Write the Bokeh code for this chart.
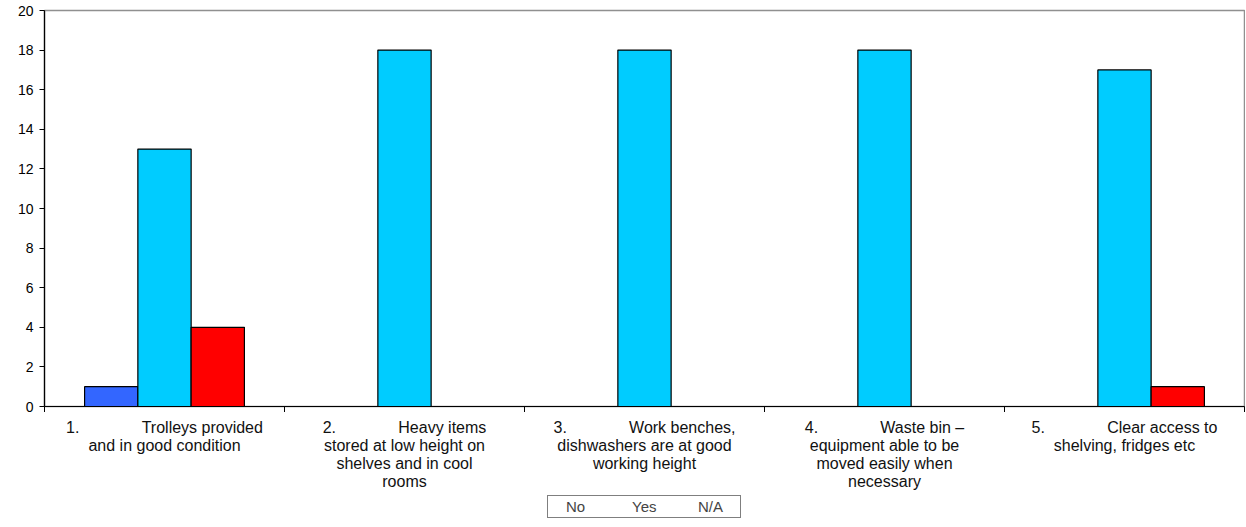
from bokeh.plotting import figure
from bokeh.layouts import column
from bokeh.models import FixedTicker, Range1d, Legend, LegendItem, ColumnDataSource
from bokeh.core.properties import value
from bokeh.embed import file_html
from bokeh.resources import INLINE

NB = "\u00a0"
categories = [
    "1." + NB * 14 + "Trolleys provided\nand in good condition",
    "2." + NB * 14 + "Heavy items\nstored at low height on\nshelves and in cool\nrooms",
    "3." + NB * 14 + "Work benches,\ndishwashers are at good\nworking height",
    "4." + NB * 14 + "Waste bin \u2013\nequipment able to be\nmoved easily when\nnecessary",
    "5." + NB * 14 + "Clear access to\nshelving, fridges etc",
]
series_names = ["No", "Yes", "N/A"]
no_values = [1, 0, 0, 0, 0]
yes_values = [13, 18, 18, 18, 17]
na_values = [4, 0, 0, 0, 1]
y_ticks = [0, 2, 4, 6, 8, 10, 12, 14, 16, 18, 20]

colors = ["#3366FF", "#00CCFF", "#FF0000"]
FONT = "Liberation Sans"

n = len(categories)
centers = [i + 0.5 for i in range(n)]
bw = 0.222
offsets = [-bw, 0.0, bw]

# ---- main chart ----
p = figure(frame_width=1200, frame_height=396, output_backend="svg", toolbar_location=None,
           x_range=Range1d(0, n), y_range=Range1d(0, 20),
           min_border_left=44, min_border_right=1, min_border_top=10, min_border_bottom=0)
p.xgrid.visible = False
p.ygrid.visible = False
p.outline_line_color = "#909090"
p.outline_line_width = 1.5
p.background_fill_color = "white"
p.border_fill_color = "white"

for vals, off, col in zip([no_values, yes_values, na_values], offsets, colors):
    src = ColumnDataSource(dict(x=[c + off for c in centers], top=vals))
    p.vbar(x="x", top="top", bottom=0, width=bw, source=src,
           fill_color=col, line_color="black", line_width=1.2)

ya = p.yaxis[0]
ya.ticker = FixedTicker(ticks=y_ticks)
ya.axis_line_color = "black"
ya.axis_line_width = 1.2
ya.major_tick_out = 5
ya.major_tick_in = 0
ya.minor_tick_line_color = None
ya.major_label_text_font = FONT
ya.major_label_text_font_size = "14px"
ya.major_label_text_color = "black"
ya.major_label_standoff = 6

xa = p.xaxis[0]
xa.ticker = FixedTicker(ticks=centers, minor_ticks=list(range(n + 1)))
xa.major_label_overrides = {c: "" for c in centers}
xa.major_label_text_font_size = "1px"
xa.major_label_standoff = 0
xa.axis_line_color = "black"
xa.axis_line_width = 1.2
xa.major_tick_out = 0
xa.major_tick_in = 0
xa.minor_tick_out = 6
xa.minor_tick_in = 0
xa.minor_tick_line_color = "black"

# ---- category labels + legend strip ----
p2 = figure(frame_width=1200, frame_height=108, output_backend="svg", toolbar_location=None,
            x_range=p.x_range, y_range=Range1d(108, 0),
            x_axis_location=None, y_axis_location=None,
            min_border_left=44, min_border_right=1, min_border_top=0, min_border_bottom=0)
p2.xgrid.visible = False
p2.ygrid.visible = False
p2.outline_line_color = None
p2.background_fill_color = "white"
p2.border_fill_color = "white"

p2.text(x=centers, y=[6] * n, text=categories, text_align="center", text_baseline="top",
        text_font=value(FONT), text_font_size="16px", text_color="#111111",
        text_line_height=1.06)

legend_renderers = []
for col in colors:
    r = p2.vbar(x=[], top=[], bottom=[], width=bw, fill_color=col,
                line_color="black", line_width=1.2)
    legend_renderers.append(r)

legend = Legend(items=[LegendItem(label=nm, renderers=[r]) for nm, r in zip(series_names, legend_renderers)],
                orientation="horizontal", location="bottom_center")
legend.label_text_font = FONT
legend.label_text_font_size = "15px"
legend.border_line_color = "black"
legend.border_line_width = 1
legend.glyph_width = 14
legend.glyph_height = 11
legend.label_standoff = 2
legend.label_width = 40
legend.spacing = 10
legend.padding = 2
legend.margin = 2
legend.label_height = 14
legend.background_fill_alpha = 1
p2.add_layout(legend, "center")

layout = column(p, p2, spacing=0)
open("out.html", "w").write(file_html(layout, INLINE))
